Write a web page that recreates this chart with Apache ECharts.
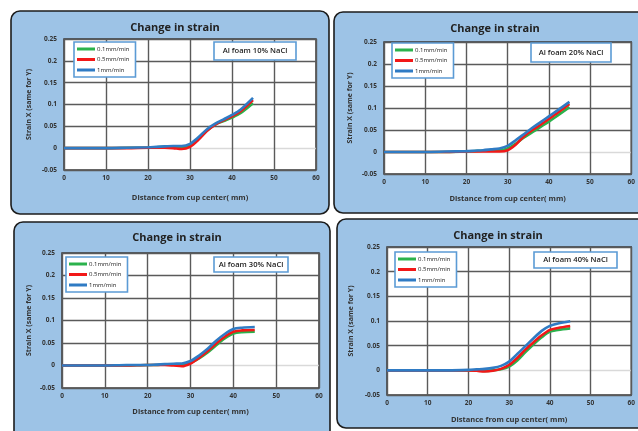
<!DOCTYPE html>
<html>
<head>
<meta charset="utf-8">
<script src="https://cdn.jsdelivr.net/npm/echarts@6/dist/echarts.min.js"></script>
<style>
  html, body { margin: 0; padding: 0; background: #ffffff; }
  #chart { width: 638px; height: 431px; }
</style>
</head>
<body>
<div id="chart"></div>
<script>
// Distance from the cup center (mm) at which strain was sampled
const distance = [0, 5, 10, 15, 20, 22, 24, 26, 28, 30, 32, 34, 36, 38, 40, 42, 45];

// Strain X for each NaCl content and crosshead speed
const strain10_01 = [0, 0, 0, 0.001, 0.001, 0.002, 0.003, 0.003, 0.002, 0.006, 0.021, 0.040, 0.054, 0.062, 0.070, 0.080, 0.103];
const strain10_05 = [0, 0, 0, 0, 0.001, 0.001, 0.001, 0.000, -0.002, 0.003, 0.019, 0.039, 0.054, 0.064, 0.073, 0.084, 0.110];
const strain10_1  = [0, 0, 0, 0.001, 0.002, 0.003, 0.004, 0.005, 0.005, 0.010, 0.025, 0.043, 0.056, 0.066, 0.076, 0.088, 0.115];

const strain20_01 = [0, 0, 0, 0, 0.001, 0.002, 0.003, 0.004, 0.004, 0.008, 0.019, 0.033, 0.045, 0.057, 0.069, 0.082, 0.102];
const strain20_05 = [0, 0, 0, 0, 0.001, 0.001, 0.001, 0.001, 0.001, 0.004, 0.017, 0.036, 0.050, 0.062, 0.075, 0.088, 0.109];
const strain20_1  = [0, 0, 0, 0.001, 0.002, 0.003, 0.004, 0.006, 0.008, 0.014, 0.027, 0.041, 0.055, 0.068, 0.081, 0.094, 0.114];

const strain30_01 = [0, 0, 0, 0, 0.001, 0.001, 0.002, 0.002, 0.001, 0.006, 0.016, 0.029, 0.045, 0.060, 0.071, 0.074, 0.075];
const strain30_05 = [0, 0, 0, 0, 0.001, 0.001, 0.001, 0.000, -0.0015, 0.0045, 0.017, 0.032, 0.049, 0.064, 0.075, 0.078, 0.079];
const strain30_1  = [0, 0, 0, 0.001, 0.001, 0.002, 0.003, 0.004, 0.0045, 0.010, 0.022, 0.037, 0.055, 0.070, 0.081, 0.084, 0.0856];

const strain40_01 = [0, 0, 0, 0, 0, 0, -0.001, 0, 0.002, 0.0075, 0.020, 0.037, 0.053, 0.067, 0.0786, 0.082, 0.085];
const strain40_05 = [0, 0, 0, 0, 0, -0.001, -0.0025, -0.001, 0.003, 0.011, 0.025, 0.042, 0.057, 0.071, 0.082, 0.086, 0.090];
const strain40_1  = [0, 0, 0, 0, 0.001, 0.002, 0.003, 0.005, 0.009, 0.0176, 0.033, 0.049, 0.065, 0.080, 0.090, 0.095, 0.0996];

const speedNames = ['0.1mm/min', '0.5mm/min', '1mm/min'];
const panelLabels = ['Al foam 10% NaCl', 'Al foam 20% NaCl', 'Al foam 30% NaCl', 'Al foam 40% NaCl'];
const yTickLabels = ['-0.05', '0', '0.05', '0.1', '0.15', '0.2', '0.25'];
const xTickLabels = ['0', '10', '20', '30', '40', '50', '60'];

const panelStrains = [
  [strain10_01, strain10_05, strain10_1],
  [strain20_01, strain20_05, strain20_1],
  [strain30_01, strain30_05, strain30_1],
  [strain40_01, strain40_05, strain40_1]
];

const speedColors = ['#2bb24c', '#f21818', '#2f7bc4'];
const FONT = '"Open Sans", "Liberation Sans", sans-serif';

// Layout of the four panels: panel box, plot area, title centre, legend, label box
const panels = [
  { box: [11, 11, 318, 203], grid: [64, 39, 252, 131], title: [170, 24],
    legend: [74, 42], label: [214, 42, 82, 18], xGap: 24, yGap: 32 },
  { box: [334, 12, 330, 201], grid: [384, 42, 252, 132], title: [490, 25],
    legend: [392, 43], label: [531, 43, 80, 19], xGap: 21, yGap: 31 },
  { box: [14, 222, 316, 220], grid: [62, 253, 257, 135], title: [172, 234],
    legend: [66, 257], label: [214, 257, 74, 15], xGap: 20, yGap: 30 },
  { box: [337, 219, 330, 209], grid: [387, 247, 250, 148], title: [493, 232],
    legend: [395, 252], label: [534, 252, 83, 16], xGap: 21, yGap: 33 }
];

const grid = [], xAxis = [], yAxis = [], series = [], title = [], legend = [], graphic = [];

panels.forEach((p, i) => {
  // panel background
  graphic.push({
    type: 'rect', z: -100, silent: true,
    shape: { x: p.box[0], y: p.box[1], width: p.box[2], height: p.box[3], r: 9 },
    style: { fill: '#9dc3e6', stroke: '#1c1c1c', lineWidth: 1.6 }
  });
  // specimen label box
  graphic.push({
    type: 'group', z: 100,
    children: [
      { type: 'rect', z: 100,
        shape: { x: p.label[0], y: p.label[1], width: p.label[2], height: p.label[3] },
        style: { fill: '#ffffff', stroke: '#5b9bd5', lineWidth: 1.6 } },
      { type: 'text', z: 101,
        x: p.label[0] + p.label[2] / 2, y: p.label[1] + p.label[3] / 2,
        style: { text: panelLabels[i], fill: '#222', font: '600 7.6px ' + FONT,
                 align: 'center', verticalAlign: 'middle' } }
    ]
  });

  grid.push({
    left: p.grid[0], top: p.grid[1], width: p.grid[2], height: p.grid[3],
    show: true, backgroundColor: '#ffffff', borderColor: '#3a3a3a', borderWidth: 1.5
  });

  xAxis.push({
    gridIndex: i, type: 'value', min: 0, max: 60, interval: 10,
    name: 'Distance from cup center( mm)', nameLocation: 'middle', nameGap: p.xGap,
    nameTextStyle: { fontFamily: FONT, fontSize: 7.5, fontWeight: 'bold', color: '#333' },
    axisLine: { show: false }, axisTick: { show: false },
    axisLabel: { fontFamily: FONT, fontSize: 6.5, fontWeight: 'bold', color: '#333', margin: 5,
                 formatter: (v) => xTickLabels[Math.round(v / 10)] },
    splitLine: { show: true, lineStyle: { color: '#5a5a5a', width: 1.4 } }
  });

  yAxis.push({
    gridIndex: i, type: 'value', min: -0.05, max: 0.25, interval: 0.05,
    name: 'Strain X (same for Y)', nameLocation: 'middle', nameGap: p.yGap,
    nameTextStyle: { fontFamily: FONT, fontSize: 7, fontWeight: 'bold', color: '#333' },
    axisLine: { show: false }, axisTick: { show: false },
    axisLabel: { fontFamily: FONT, fontSize: 6.5, fontWeight: 'bold', color: '#333', margin: 7,
                 formatter: (v) => yTickLabels[Math.round((v + 0.05) / 0.05)] },
    splitLine: { show: true, lineStyle: {
      color: ['#5a5a5a', '#d9d9d9', '#5a5a5a', '#5a5a5a', '#5a5a5a', '#5a5a5a', '#5a5a5a'], width: 1.4 } }
  });

  title.push({
    text: 'Change in strain', left: p.title[0], top: p.title[1] - 7, textAlign: 'center',
    textStyle: { fontFamily: FONT, fontSize: 11, fontWeight: 'bold', color: '#222' }
  });

  legend.push({
    orient: 'vertical', left: p.legend[0], top: p.legend[1],
    data: speedNames, icon: 'rect', itemWidth: 18, itemHeight: 3, itemGap: 4.5,
    padding: [4, 6, 4, 3], backgroundColor: '#ffffff', borderColor: '#5b9bd5', borderWidth: 1.6,
    borderRadius: 0, selectedMode: false,
    textStyle: { fontFamily: FONT, fontSize: 6, fontWeight: 500, color: '#222', padding: [0, 0, 0, -3] }
  });

  panelStrains[i].forEach((vals, k) => {
    series.push({
      name: speedNames[k], type: 'line', xAxisIndex: i, yAxisIndex: i,
      data: distance.map((d, j) => [d, vals[j]]),
      smooth: 0.3, showSymbol: false, symbol: 'none',
      lineStyle: { color: speedColors[k], width: 2.6 }, itemStyle: { color: speedColors[k] },
      z: 3 + k
    });
  });
});

const chart = echarts.init(document.getElementById('chart'), null, { renderer: 'canvas' });
chart.setOption({
  animation: false,
  backgroundColor: '#ffffff',
  title, legend, grid, xAxis, yAxis, series, graphic
});
</script>
</body>
</html>
